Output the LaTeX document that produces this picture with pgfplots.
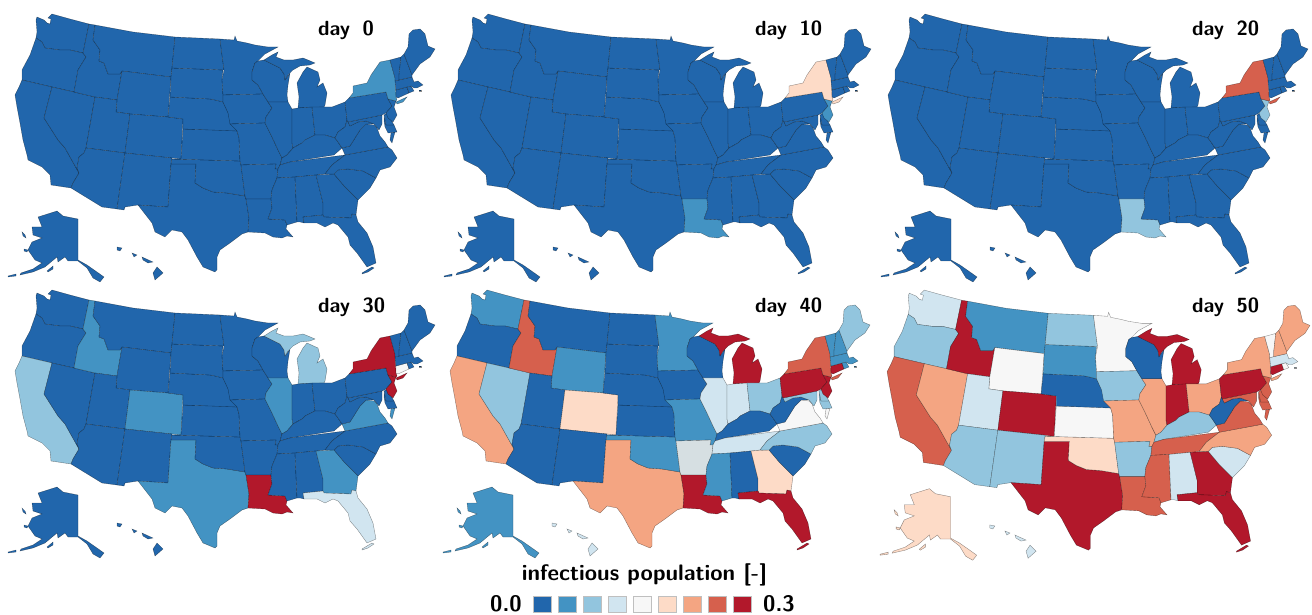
\documentclass[border=0pt]{standalone}
\usepackage{pgfplots}
\pgfplotsset{compat=1.18}
\definecolor{c1}{HTML}{2166AC}
\definecolor{c2}{HTML}{4393C3}
\definecolor{c3}{HTML}{92C5DE}
\definecolor{c4}{HTML}{D1E5F0}
\definecolor{c5}{HTML}{F7F7F7}
\definecolor{c6}{HTML}{FDDBC7}
\definecolor{c7}{HTML}{F4A582}
\definecolor{c8}{HTML}{D6604D}
\definecolor{c9}{HTML}{B2182B}
\definecolor{c0}{HTML}{D6DFE2}

% state outlines, in pixels of the first panel
\def\pWA{(37,17)(44,20)(47,23)(50,24)(51,19)(48,18)(52,14)(70,19)(89,24)(83,53)(70,50)(60,50)(45,48)(42,42)(36,38)(37,32)(36,20)}
\def\pOR{(36,38)(42,42)(45,48)(60,50)(70,50)(83,53)(86,57)(78,70)(74,92)(52,87)(22,80)(22,70)(30,55)}
\def\pCA{(22,80)(52,87)(44,118)(58,140)(65,148)(79,173)(73,183)(71,188)(51,185)(50,175)(42,167)(28,160)(27,155)(23,140)(20,123)(17,107)(15,95)(19,87)}
\def\pNV{(52,87)(74,92)(95,97)(86,148)(84,153)(79,157)(77,168)(79,173)(65,148)(58,140)(44,118)}
\def\pID{(89,24)(95,25)(93,40)(100,50)(99,61)(104,63)(108,74)(120,74)(122,71)(117,100)(95,97)(74,92)(78,70)(86,57)(83,53)}
\def\pMT{(95,25)(133,32)(175,37)(172,68)(171,77)(122,71)(120,74)(108,74)(104,63)(99,61)(100,50)(93,40)}
\def\pWY{(122,71)(171,77)(168,117)(130,114)(116,112)(117,100)}
\def\pUT{(95,97)(117,100)(116,112)(130,114)(125,153)(86,148)}
\def\pCO{(130,114)(168,117)(183,119)(181,159)(172,158)(125,153)}
\def\pAZ{(86,148)(125,153)(117,209)(102,207)(71,188)(73,183)(79,173)(77,168)(79,157)(84,153)}
\def\pNM{(125,153)(172,158)(171,164)(168,207)(138,205)(125,207)(124,210)(117,209)}
\def\pTX{(171,164)(196,164)(195,183)(203,188)(213,192)(227,193)(245,196)(246,199)(249,218)(248,232)(242,234)(230,243)(220,250)(217,257)(217,270)(215,272)(203,267)(197,257)(188,240)(182,232)(172,230)(165,237)(155,232)(152,223)(138,205)(168,207)}
\def\pOK{(172,159)(240,161)(241,165)(245,196)(227,193)(213,192)(203,188)(195,183)(196,164)(171,164)}
\def\pKS{(183,129)(230,130)(237,131)(239,138)(240,161)(172,159)(181,159)}
\def\pNE{(170,97)(168,117)(183,119)(183,129)(237,131)(232,122)(228,112)(223,102)(215,100)(210,99)}
\def\pSD{(172,68)(223,70)(222,80)(223,95)(223,102)(215,100)(210,99)(170,97)(171,77)}
\def\pND{(175,37)(220,39)(222,55)(224,70)(172,68)}
\def\pMN{(220,39)(234,40)(235,36)(237,41)(247,43)(255,45)(268,47)(278,47)(265,54)(258,61)(255,63)(252,72)(252,80)(258,85)(263,94)(223,95)(222,80)(224,70)(222,55)}
\def\pIA{(223,95)(263,94)(268,102)(272,108)(266,117)(265,123)(230,124)(228,113)(223,102)}
\def\pMO{(230,124)(265,123)(272,137)(278,150)(282,158)(280,165)(278,169)(275,169)(276,164)(241,165)(240,161)(239,138)(237,131)}
\def\pAR{(241,165)(276,164)(275,169)(278,169)(277,178)(272,190)(271,199)(246,199)(245,196)}
\def\pLA{(246,199)(271,199)(272,208)(268,219)(285,220)(287,225)(286,229)(293,237)(287,236)(282,238)(273,237)(265,233)(248,232)(249,218)}
\def\pWI{(252,72)(255,63)(258,61)(264,60)(272,64)(280,68)(284,74)(285,80)(290,73)(288,85)(287,95)(288,102)(268,102)(263,94)(258,85)(252,80)}
\def\pMIa{(264,60)(272,55)(278,52)(276,57)(284,60)(293,60)(303,58)(308,60)(315,63)(310,65)(300,66)(293,70)(288,75)(285,80)(284,74)(280,68)(272,64)}
\def\pMIb{(298,108)(299,97)(297,83)(303,72)(307,67)(318,72)(320,80)(317,87)(323,83)(327,93)(325,105)(324,107)}
\def\pIL{(268,102)(288,102)(292,109)(292,143)(293,148)(287,155)(282,158)(278,150)(272,137)(265,123)(266,117)(272,108)}
\def\pIN{(292,109)(298,108)(312,107)(315,135)(305,140)(302,143)(293,148)(292,143)}
\def\pOH{(312,107)(324,107)(332,107)(345,102)(347,120)(345,127)(338,132)(335,138)(325,135)(315,135)}
\def\pKY{(315,135)(325,135)(335,138)(338,142)(342,148)(334,155)(290,162)(280,165)(282,158)(287,155)(293,148)(302,143)(305,140)}
\def\pTN{(280,165)(290,162)(345,155)(332,165)(325,174)(316,175)(295,177)(277,178)(278,169)}
\def\pMS{(277,178)(295,177)(297,222)(287,225)(285,220)(268,219)(272,208)(271,199)(272,190)}
\def\pAL{(295,177)(316,175)(323,203)(323,215)(303,217)(304,223)(300,222)(297,222)}
\def\pGA{(316,175)(334,174)(345,187)(358,200)(356,215)(352,214)(351,218)(324,217)(323,215)(323,203)}
\def\pFL{(303,217)(323,215)(324,217)(351,218)(352,214)(356,215)(358,222)(367,233)(373,247)(376,263)(367,267)(357,253)(350,245)(348,237)(338,225)(333,223)(325,227)(317,223)(305,223)(304,223)}
\def\pFLb{(362,274)(368,272)(374,268)(372,267)(362,273)}
\def\pSC{(334,174)(338,170)(348,169)(363,171)(376,178)(370,188)(358,200)(345,187)}
\def\pNC{(345,155)(388,147)(392,150)(397,158)(390,167)(380,170)(376,178)(363,171)(348,169)(338,170)(334,174)(325,174)(332,165)}
\def\pVA{(345,155)(342,148)(350,146)(355,138)(360,130)(366,124)(374,125)(377,128)(380,136)(385,142)(388,147)}
\def\pVAb{(391,133)(395,132)(392,143)(390,140)}
\def\pWV{(347,120)(348,122)(350,126)(358,122)(366,121)(374,124)(366,124)(360,130)(355,138)(350,146)(342,148)(338,142)(335,138)(338,132)(345,127)}
\def\pMD{(348,122)(382,115)(382,124)(379,130)(374,124)(366,121)(358,122)(350,126)}
\def\pMDb{(384,116)(386,125)(394,125)(397,132)(388,133)(385,127)(384,121)}
\def\pDE{(384,115)(387,113)(391,120)(394,125)(386,125)}
\def\pPA{(345,102)(349,98)(386,92)(388,99)(392,106)(386,113)(382,115)(348,122)(347,120)}
\def\pNJ{(388,99)(396,101)(394,107)(397,115)(393,122)(388,118)(386,113)(392,106)}
\def\pNY{(349,98)(353,93)(353,86)(367,83)(371,75)(380,62)(390,60)(395,78)(396,97)(397,100)(396,101)(388,99)(386,92)}
\def\pNYb{(396,102)(407,97)(403,102)(397,104)}
\def\pCT{(396,90)(407,87)(409,93)(398,98)(396,97)}
\def\pRI{(407,87)(411,86)(414,91)(409,93)}
\def\pMA{(395,81)(412,77)(414,82)(418,81)(423,85)(417,88)(414,88)(411,86)(407,87)(396,90)}
\def\pMAb{(419,90)(421,90)(421,91)(419,91)}
\def\pVT{(390,60)(401,57)(399,75)(399,80)(395,81)(395,78)}
\def\pNH{(401,57)(404,54)(412,75)(412,77)(399,80)(399,75)}
\def\pME{(404,54)(408,47)(409,34)(413,30)(420,29)(425,34)(428,46)(435,49)(430,57)(420,64)(412,75)}
\def\pAK{(38,217)(57,211)(63,216)(78,219)(78,260)(87,265)(97,272)(104,277)(100,282)(93,278)(87,268)(78,261)(68,261)(65,257)(58,262)(57,257)(45,267)(33,272)(20,275)(21,273)(33,269)(42,263)(35,260)(28,250)(32,242)(42,238)(33,235)(32,227)(42,227)}
\def\pAKb{(22,232)(25,235)(26,238)(23,236)}
\def\pAKc{(24,249)(28,250)(27,252)(24,251)}
\def\pAKd{(47,271)(53,266)(53,269)(48,272)}
\def\pAKe{(8,276)(16,274)(16,276)(8,277)}
\def\pHIa{(157,267)(163,273)(155,280)(153,273)}
\def\pHIb{(142,257)(153,262)(148,263)(143,260)}
\def\pHIc{(132,253)(137,255)(134,257)}
\def\pHId{(117,247)(122,248)(120,251)(117,250)}

\makeatletter
\newcommand\col[2]{\expandafter\gdef\csname col#1\endcsname{#2}}
\newcommand\cols[2]{\@for\s:=#1\do{\col{\s}{#2}}}
\makeatother
\newcommand\allblue{\cols{WA,OR,CA,NV,ID,MT,WY,UT,CO,AZ,NM,TX,OK,KS,NE,SD,ND,MN,IA,MO,AR,LA,WI,MI,IL,IN,OH,KY,TN,MS,AL,GA,FL,SC,NC,VA,WV,MD,DE,PA,NJ,NY,CT,RI,MA,VT,NH,ME,AK,HI}{c1}}

\newcommand\ps[2]{\edef\tmp{\noexpand\addplot[fill=\csname col#1\endcsname,draw=black,draw opacity=0.45,line width=0.35pt] coordinates {\csname p#2\endcsname} -- cycle;}\tmp}
\newcommand\drawall{%
  \ps{WA}{WA}\ps{OR}{OR}\ps{CA}{CA}\ps{NV}{NV}\ps{ID}{ID}\ps{MT}{MT}\ps{WY}{WY}\ps{UT}{UT}\ps{CO}{CO}\ps{AZ}{AZ}%
  \ps{NM}{NM}\ps{TX}{TX}\ps{OK}{OK}\ps{KS}{KS}\ps{NE}{NE}\ps{SD}{SD}\ps{ND}{ND}\ps{MN}{MN}\ps{IA}{IA}\ps{MO}{MO}%
  \ps{AR}{AR}\ps{LA}{LA}\ps{WI}{WI}\ps{MI}{MIa}\ps{MI}{MIb}\ps{IL}{IL}\ps{IN}{IN}\ps{OH}{OH}\ps{KY}{KY}\ps{TN}{TN}%
  \ps{MS}{MS}\ps{AL}{AL}\ps{GA}{GA}\ps{FL}{FL}\ps{FL}{FLb}\ps{SC}{SC}\ps{NC}{NC}\ps{VA}{VA}\ps{VA}{VAb}\ps{WV}{WV}%
  \ps{MD}{MD}\ps{MD}{MDb}\ps{DE}{DE}\ps{PA}{PA}\ps{NJ}{NJ}\ps{NY}{NY}\ps{NY}{NYb}\ps{CT}{CT}\ps{RI}{RI}\ps{MA}{MA}%
  \ps{MA}{MAb}\ps{VT}{VT}\ps{NH}{NH}\ps{ME}{ME}\ps{AK}{AK}\ps{AK}{AKb}\ps{AK}{AKc}\ps{AK}{AKd}\ps{AK}{AKe}%
  \ps{HI}{HIa}\ps{HI}{HIb}\ps{HI}{HIc}\ps{HI}{HId}}

% #1 left, #2 top (from the picture's bottom), #3 width, #4 height
\newcommand\panel[4]{%
  \begin{axis}[at={(#1pt,#2pt)},anchor=north west,scale only axis,hide axis,clip=false,
    width=#3pt,height=#4pt,xmin=0,xmax=440,ymin=0,ymax=290,y dir=reverse]
  \drawall
  \end{axis}}

\tikzset{lab/.style={font=\sffamily\bfseries\fontsize{22.4}{26}\selectfont,inner sep=0pt,text=black},
  daylab/.style={font=\sffamily\bfseries\fontsize{20.5}{24}\selectfont,inner sep=0pt,text=black,anchor=base west}}

\begin{document}
\begin{tikzpicture}
\useasboundingbox (0,0) rectangle (1312pt,615pt);

% day 0
\allblue \cols{NY}{c2}
\panel{0}{615}{440}{290}
% day 10
\allblue \cols{NY}{c6}\cols{NJ,LA}{c2}
\panel{436}{615}{440}{290}
% day 20
\allblue \cols{NY}{c8}\cols{NJ,LA}{c3}
\panel{873}{615}{440}{290}
% day 30
\allblue \cols{NY,NJ,LA}{c9}\cols{CT}{c5}\cols{MI,CA}{c3}\cols{IL,VA,ID,CO,TX,GA}{c2}\cols{FL}{c4}
\panel{0}{339}{440}{290}
% day 40
\allblue
\cols{WA,WY,OK,MN,MO,MS,VT,NH,MA,RI,AK}{c2}
\cols{NV,OH,NC,ME,MD,DE}{c3}
\cols{IL,IN,TN,HI}{c4}
\cols{VA}{c5}\cols{AR}{c0}
\cols{CO,GA}{c6}
\cols{CA,TX}{c7}
\cols{ID,NY}{c8}
\cols{LA,MI,FL,PA,NJ,CT}{c9}
\panel{435}{339}{440}{290}
% day 50
\cols{NE,WI,WV}{c1}
\cols{MT,SD}{c2}
\cols{OR,AZ,NM,ND,IA,AR,KY}{c3}
\cols{WA,UT,AL,SC,MA,HI}{c4}
\cols{WY,KS,MN,RI,VT}{c5}
\cols{OK,AK}{c6}
\cols{NV,MO,IL,OH,NC,NY,NH,ME}{c7}
\cols{CA,LA,TN,MS,VA,NJ,MD,DE}{c8}
\cols{ID,CO,TX,IN,MI,GA,FL,PA,CT}{c9}
\panel{872}{339}{443}{292.3}

% titles and colour key
\begin{axis}[at={(0pt,0pt)},anchor=south west,scale only axis,hide axis,clip=false,
  width=1312pt,height=615pt,xmin=0,xmax=1312,ymin=0,ymax=615,y dir=reverse]
\addplot[fill=c1,draw=black!25] coordinates {(533,596)(551,596)(551,612)(533,612)} -- cycle;
\addplot[fill=c2,draw=black!25] coordinates {(558,596)(576,596)(576,612)(558,612)} -- cycle;
\addplot[fill=c3,draw=black!25] coordinates {(583,596)(601,596)(601,612)(583,612)} -- cycle;
\addplot[fill=c4,draw=black!25] coordinates {(608,596)(626,596)(626,612)(608,612)} -- cycle;
\addplot[fill=c5,draw=black!25] coordinates {(633,596)(651,596)(651,612)(633,612)} -- cycle;
\addplot[fill=c6,draw=black!25] coordinates {(658,596)(676,596)(676,612)(658,612)} -- cycle;
\addplot[fill=c7,draw=black!25] coordinates {(683,596)(701,596)(701,612)(683,612)} -- cycle;
\addplot[fill=c8,draw=black!25] coordinates {(708,596)(726,596)(726,612)(708,612)} -- cycle;
\addplot[fill=c9,draw=black!25] coordinates {(733,596)(751,596)(751,612)(733,612)} -- cycle;
\node[daylab] at (axis cs:318,36) {day\hspace{5pt} 0};
\node[daylab] at (axis cs:755,36) {day\hspace{5pt} 10};
\node[daylab] at (axis cs:1192,36) {day\hspace{5pt} 20};
\node[daylab] at (axis cs:318,312) {day\hspace{5pt} 30};
\node[daylab] at (axis cs:755,312) {day\hspace{5pt} 40};
\node[daylab] at (axis cs:1192,312) {day\hspace{5pt} 50};
\node[lab,anchor=base] at (axis cs:644.5,580) {infectious population [-]};
\node[lab,anchor=base west] at (axis cs:490,611) {0.0};
\node[lab,anchor=base west] at (axis cs:763,611) {0.3};
\end{axis}
\end{tikzpicture}
\end{document}
